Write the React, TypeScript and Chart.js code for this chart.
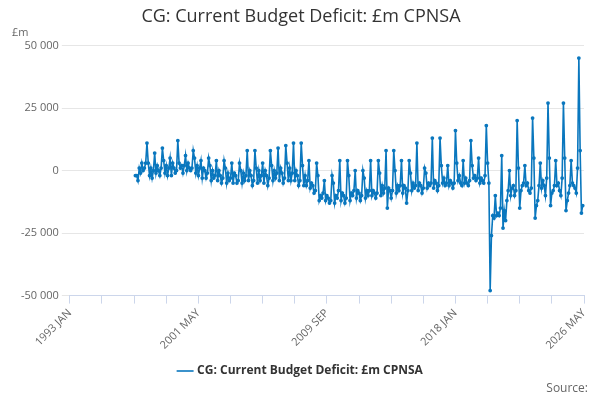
import React, { useEffect, useRef } from "react";
import { Chart, registerables } from "chart.js";
Chart.register(...registerables);

const startYear = 1993;
const totalMonths = 401; // 1993 JAN .. 2026 MAY
const dataStartIndex = 51; // 1997 APR
const monthNames = ["JAN","FEB","MAR","APR","MAY","JUN","JUL","AUG","SEP","OCT","NOV","DEC"];

const y1997 = [-2, -2, -4, 1, -1, 3, 0, 1, 3];
const y1998 = [11, 3, -2, 1, -3, 0, 7, -1, 2, 0, -2, 1];
const y1999 = [9, 4, -1, 2, -2, 1, 5, -2, 3, 1, -1, 0];
const y2000 = [12, 3, 1, 2, -1, 2, 6, 0, 3, 1, 0, 1];
const y2001 = [8, 5, -1, 2, -2, 1, 4, -3, 1, 0, -3, -1];
const y2002 = [5, 2, -4, 0, -3, -2, 4, -4, 0, -2, -5, -3];
const y2003 = [4, 1, -5, -1, -4, -3, 3, -5, -1, -2, -5, -4];
const y2004 = [3, 0, -5, -1, -4, -2, 8, -4, 0, -2, -6, -4];
const y2005 = [8, 1, -5, 0, -4, -2, 3, -5, 0, -2, -6, -3];
const y2006 = [8, 2, -4, 0, -3, -1, 9, -4, 1, -1, -5, -3];
const y2007 = [10, 3, -4, 1, -4, -1, 11, -4, 0, -2, -6, -4];
const y2008 = [11, 2, -6, -2, -6, -4, 4, -7, -5, -6, -9, -8];
const y2009 = [3, -2, -12, -10, -11, -9, -4, -12, -10, -11, -13, -12];
const y2010 = [-2, -5, -13, -10, -11, -8, 4, -12, -9, -10, -13, -11];
const y2011 = [4, -2, -12, -9, -10, -8, 0, -11, -8, -9, -12, -10];
const y2012 = [0, -3, -11, -8, -10, -8, 4, -10, -8, -9, -11, -9];
const y2013 = [4, -1, -10, -6, -9, -7, 8, -15, -7, -8, -11, -8];
const y2014 = [8, 0, -9, -6, -8, -6, 4, -9, -6, -7, -13, -8];
const y2015 = [4, -1, -8, -5, -7, -6, 11, -8, -5, -6, -9, -7];
const y2016 = [1, -1, -7, -5, -6, -5, 13, -7, -4, -5, -8, -6];
const y2017 = [13, 2, -5, -3, -6, -5, 2, -6, -4, -5, -7, -5];
const y2018 = [16, 3, -4, -2, -5, -6, 4, -5, -3, -5, -6, -4];
const y2019 = [12, 2, -3, -2, -4, -3, 5, -5, -3, -4, -5, -2];
const y2020 = [18, 3, -5, -48, -26, -18, -19, -10, -18, -17, -18, -15];
const y2021 = [6, -23, -16, -20, -12, -8, 0, -10, -7, -6, -10, -8];
const y2022 = [20, 1, -15, -8, -6, -5, 2, -6, -5, -8, -9, -7];
const y2023 = [21, 5, -19, -14, -12, -6, 3, -7, -4, -6, -10, -3];
const y2024 = [27, 5, -14, -9, -8, -6, 4, -6, -5, -8, -10, -3];
const y2025 = [27, 5, -16, -12, -9, -6, 4, -5, -6, -7, -9, 1];
const y2026 = [45, 8, -17, -14];

const series = [
  y1997, y1998, y1999, y2000, y2001, y2002, y2003, y2004, y2005, y2006, y2007,
  y2008, y2009, y2010, y2011, y2012, y2013, y2014, y2015, y2016, y2017, y2018,
  y2019, y2020, y2021, y2022, y2023, y2024, y2025, y2026,
].flat().map((v) => v * 1000);

const labels = Array.from({ length: totalMonths }, (_, i) =>
  `${startYear + Math.floor(i / 12)} ${monthNames[i % 12]}`);
const values: (number | null)[] = labels.map((_, i) => {
  const k = i - dataStartIndex;
  return k >= 0 && k < series.length ? series[k] : null;
});

export default function App() {
  const ref = useRef<HTMLCanvasElement>(null);
  useEffect(() => {
    const color = "#0a77be";
    const chart = new Chart(ref.current!, {
      type: "line",
      data: {
        labels,
        datasets: [{
          label: "CG: Current Budget Deficit: £m CPNSA",
          data: values,
          borderColor: color,
          backgroundColor: color,
          borderWidth: 1.6,
          pointRadius: 1.1,
          pointHoverRadius: 1.5,
          tension: 0,
          spanGaps: false,
        }],
      },
      options: {
        animation: false,
        responsive: false,
        layout: { padding: { left: 18, right: 16, top: 0, bottom: 13 } },
        plugins: {
          title: {
            display: true,
            text: "CG: Current Budget Deficit: £m CPNSA",
            color: "#333",
            font: { family: "'Open Sans', sans-serif", size: 18, weight: "normal" },
            padding: { top: 6, bottom: 18 },
          },
          legend: {
            position: "bottom",
            labels: {
              usePointStyle: true,
              pointStyle: "line",
              color: "#333",
              font: { family: "'Open Sans', sans-serif", size: 12, weight: "bold" },
              padding: 10,
            },
          },
          tooltip: { enabled: false },
        },
        scales: {
          x: {
            type: "category",
            grid: { drawOnChartArea: false, color: "#ccd6eb", tickLength: 8 },
            border: { color: "#ccd6eb" },
            ticks: {
              autoSkip: false,
              maxRotation: 45,
              minRotation: 45,
              color: "#666",
              font: { family: "'Open Sans', sans-serif", size: 11 },
              callback: (_v: any, i: number) =>
                i % 100 === 0 ? labels[i] : i % 25 === 0 ? "" : null,
            },
          },
          y: {
            min: -50000,
            max: 50000,
            grid: { color: "#e6e6e6" },
            border: { display: false },
            ticks: {
              stepSize: 25000,
              color: "#666",
              font: { family: "'Open Sans', sans-serif", size: 11 },
              callback: (v: any) => {
                const n = Number(v);
                const s = Math.abs(n).toString().replace(/\B(?=(\d{3})+(?!\d))/g, " ");
                return (n < 0 ? "-" : "") + s;
              },
            },
          },
        },
      },
    });
    return () => chart.destroy();
  }, []);
  return (
    <div style={{ position: "absolute", left: 0, top: 0, width: 600, height: 400, background: "#fff" }}>
      <canvas ref={ref} width={600} height={400} />
      <div style={{ position: "absolute", left: 12, top: 24, fontFamily: "'Open Sans', sans-serif", fontSize: 11, color: "#666" }}>£m</div>
      <div style={{ position: "absolute", right: 12, top: 379, fontFamily: "'Open Sans', sans-serif", fontSize: 12, color: "#666" }}>Source:</div>
    </div>
  );
}
